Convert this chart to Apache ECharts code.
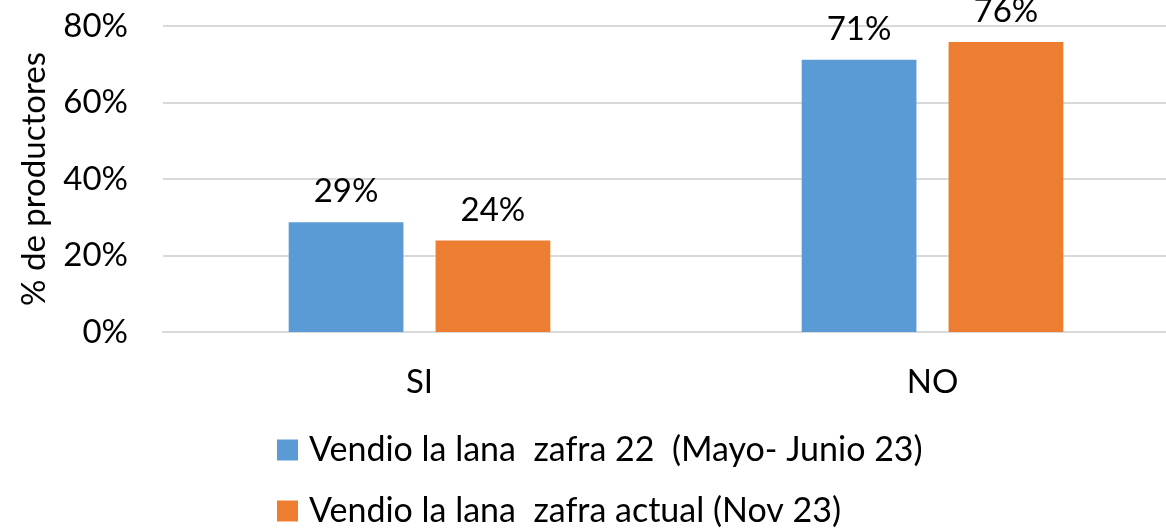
<!doctype html>
<html>
<head>
    <meta http-equiv="Content-Type" content="text/html; charset=utf-8">
    <title>Venta de lana</title>
    <script src="https://cdn.jsdelivr.net/npm/echarts@6/dist/echarts.min.js"></script>
    <style>
        html, body{margin:0;padding:0;background:#fff;}
        #chart{width:1166px;height:528px;}
    </style>
</head>
<body>
<div id="chart"></div>
<script type="text/javascript">
    var categories = ['SI', 'NO'];
    var seriesNames = ['Vendio la lana  zafra 22  (Mayo- Junio 23)', 'Vendio la lana  zafra actual (Nov 23)'];
    var zafra22 = [28.7, 71.2];
    var zafraActual = [23.9, 75.8];
    var yTicks = [0, 20, 40, 60, 80];

    var FONT = 'Lato';
    var SIZE = 33;

    var myChart = echarts.init(document.getElementById('chart'));
    var labelOpt = {
        show: true,
        position: 'top',
        distance: 14,
        color: '#000',
        fontFamily: FONT,
        fontSize: SIZE,
        formatter: function (p) { return Math.round(p.value) + '%'; }
    };
    // one legend per row, Excel style stacked under the plot
    function legendRow(name, top) {
        return {
            orient: 'vertical',
            left: 277,
            top: top,
            padding: 0,
            itemWidth: 21,
            itemHeight: 21,
            icon: 'rect',
            data: [name],
            textStyle: {fontFamily: FONT, fontSize: 34, color: '#000', lineHeight: 36, padding: [0, 0, 0, 6]}
        };
    }
    var option = {
        animation: false,
        grid: {left: 163, width: 1026, top: 26, height: 306, outerBoundsMode: 'none'},
        legend: [legendRow(seriesNames[0], 432), legendRow(seriesNames[1], 493)],
        xAxis: {
            type: 'category',
            data: categories,
            axisTick: {show: false},
            axisLine: {lineStyle: {color: '#d9d9d9', width: 2}},
            axisLabel: {color: '#000', fontFamily: FONT, fontSize: SIZE, margin: 34}
        },
        yAxis: {
            type: 'value',
            min: yTicks[0],
            max: yTicks[yTicks.length - 1],
            interval: 20,
            name: '% de productores',
            nameLocation: 'middle',
            nameGap: 112,
            nameTextStyle: {color: '#000', fontFamily: FONT, fontSize: SIZE},
            axisLabel: {color: '#000', fontFamily: FONT, fontSize: SIZE, margin: 35, formatter: '{value}%'},
            splitLine: {lineStyle: {color: '#d9d9d9', width: 2}}
        },
        series: [
            {name: seriesNames[0], type: 'bar', data: zafra22, itemStyle: {color: '#5b9bd5'},
                barGap: '28%', barCategoryGap: '49%', label: labelOpt},
            {name: seriesNames[1], type: 'bar', data: zafraActual, itemStyle: {color: '#ed7d31'},
                label: labelOpt}
        ]
    };
    myChart.setOption(option);
</script>
</body>
</html>
